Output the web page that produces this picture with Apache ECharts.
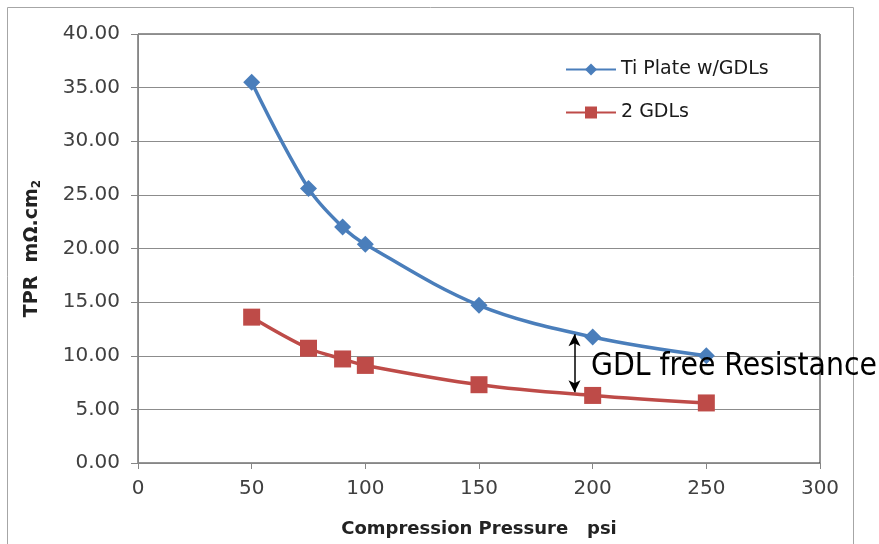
<!DOCTYPE html>
<html>
<head>
<meta charset="utf-8">
<script src="https://cdn.jsdelivr.net/npm/echarts@6/dist/echarts.min.js"></script>
<style>
  html, body { margin: 0; padding: 0; background: #fff; }
  #chart { width: 879px; height: 544px; }
</style>
</head>
<body>
<div id="chart"></div>
<script>
// Compression pressure (psi) at which contact resistance was measured
const pressure = [50, 75, 90, 100, 150, 200, 250];
// Through-plane resistance, mΩ·cm²
const tiPlateWithGdl = [35.5, 25.6, 22.0, 20.4, 14.7, 11.75, 10.0];
const twoGdl = [13.6, 10.7, 9.7, 9.1, 7.3, 6.3, 5.6];
const seriesNames = ['Ti Plate w/GDLs', '2 GDLs'];
// Span of the "GDL free Resistance" arrow: [pressure, top TPR, bottom TPR]
const gapArrow = [192, 12.0, 6.6];

const FONT = '"DejaVu Sans", "Noto Sans", sans-serif';
const BLUE = '#4a7ebb';
const RED = '#be4b48';

const chart = echarts.init(document.getElementById('chart'));

chart.setOption({
  animation: false,
  backgroundColor: '#fff',
  grid: {
    left: 138, right: 59, top: 34, bottom: 81,
    show: true, borderColor: '#2a2a2a', borderWidth: 1
  },
  legend: {
    left: 560, top: 55,
    orient: 'vertical',
    itemGap: 24,
    itemWidth: 50, itemHeight: 15,
    data: seriesNames,
    textStyle: { fontFamily: FONT, fontSize: 19, color: '#1a1a1a', padding: [0, 0, 0, 0] }
  },
  xAxis: {
    type: 'value', min: 0, max: 300, interval: 50,
    name: 'Compression Pressure   psi',
    nameLocation: 'middle', nameGap: 57,
    nameTextStyle: { fontFamily: FONT, fontSize: 18, fontWeight: 'bold', color: '#222' },
    axisLine: { show: true, lineStyle: { color: '#868686', width: 1 } },
    axisTick: { show: true, length: 6, lineStyle: { color: '#868686' } },
    axisLabel: { fontFamily: FONT, fontSize: 20, color: '#404040', margin: 16 },
    splitLine: { show: false }
  },
  yAxis: {
    type: 'value', min: 0, max: 40, interval: 5,
    name: '{a|TPR  mΩ.cm}{s|2}',
    nameLocation: 'middle', nameGap: 95, nameRotate: 90,
    nameTextStyle: {
      rich: {
        a: { fontFamily: FONT, fontSize: 19, fontWeight: 'bold', color: '#222' },
        s: { fontFamily: FONT, fontSize: 12, fontWeight: 'bold', color: '#222', verticalAlign: 'bottom', padding: [10, 0, 0, 0] }
      }
    },
    axisLine: { show: true, lineStyle: { color: '#868686', width: 1 } },
    axisTick: { show: true, length: 7, lineStyle: { color: '#868686' } },
    axisLabel: {
      fontFamily: FONT, fontSize: 20, color: '#404040', margin: 18,
      formatter: v => v.toFixed(2)
    },
    splitLine: { show: true, lineStyle: { color: '#8c8c8c', width: 1 } }
  },
  series: [
    {
      name: seriesNames[0],
      type: 'line',
      data: pressure.map((p, i) => [p, tiPlateWithGdl[i]]),
      smooth: 0.35,
      symbol: 'diamond', symbolSize: 17,
      lineStyle: { color: BLUE, width: 3.5 },
      itemStyle: { color: BLUE },
      markLine: {
        silent: true,
        symbol: ['arrow', 'arrow'],
        symbolSize: [9, 12],
        label: { show: false },
        lineStyle: { color: '#000', width: 1.5, type: 'solid' },
        data: [[
          { coord: [gapArrow[0], gapArrow[1]] },
          { coord: [gapArrow[0], gapArrow[2]] }
        ]]
      },
      z: 3
    },
    {
      name: seriesNames[1],
      type: 'line',
      data: pressure.map((p, i) => [p, twoGdl[i]]),
      smooth: 0.35,
      symbol: 'rect', symbolSize: 17,
      lineStyle: { color: RED, width: 3.5 },
      itemStyle: { color: RED },
      z: 3
    }
  ],
  graphic: [
    {
      type: 'rect', z: -10, silent: true,
      shape: { x: 7.5, y: 7.5, width: 846, height: 560 },
      style: { fill: 'none', stroke: '#a6a6a6', lineWidth: 1 }
    },
    {
      type: 'text', z: 100, left: 591, top: 351,
      style: {
        text: 'GDL free Resistance',
        fontFamily: '"DejaVu Sans Condensed", "DejaVu Sans", sans-serif',
        fontSize: 31.5, fill: '#000'
      }
    }
  ]
});
</script>
</body>
</html>
